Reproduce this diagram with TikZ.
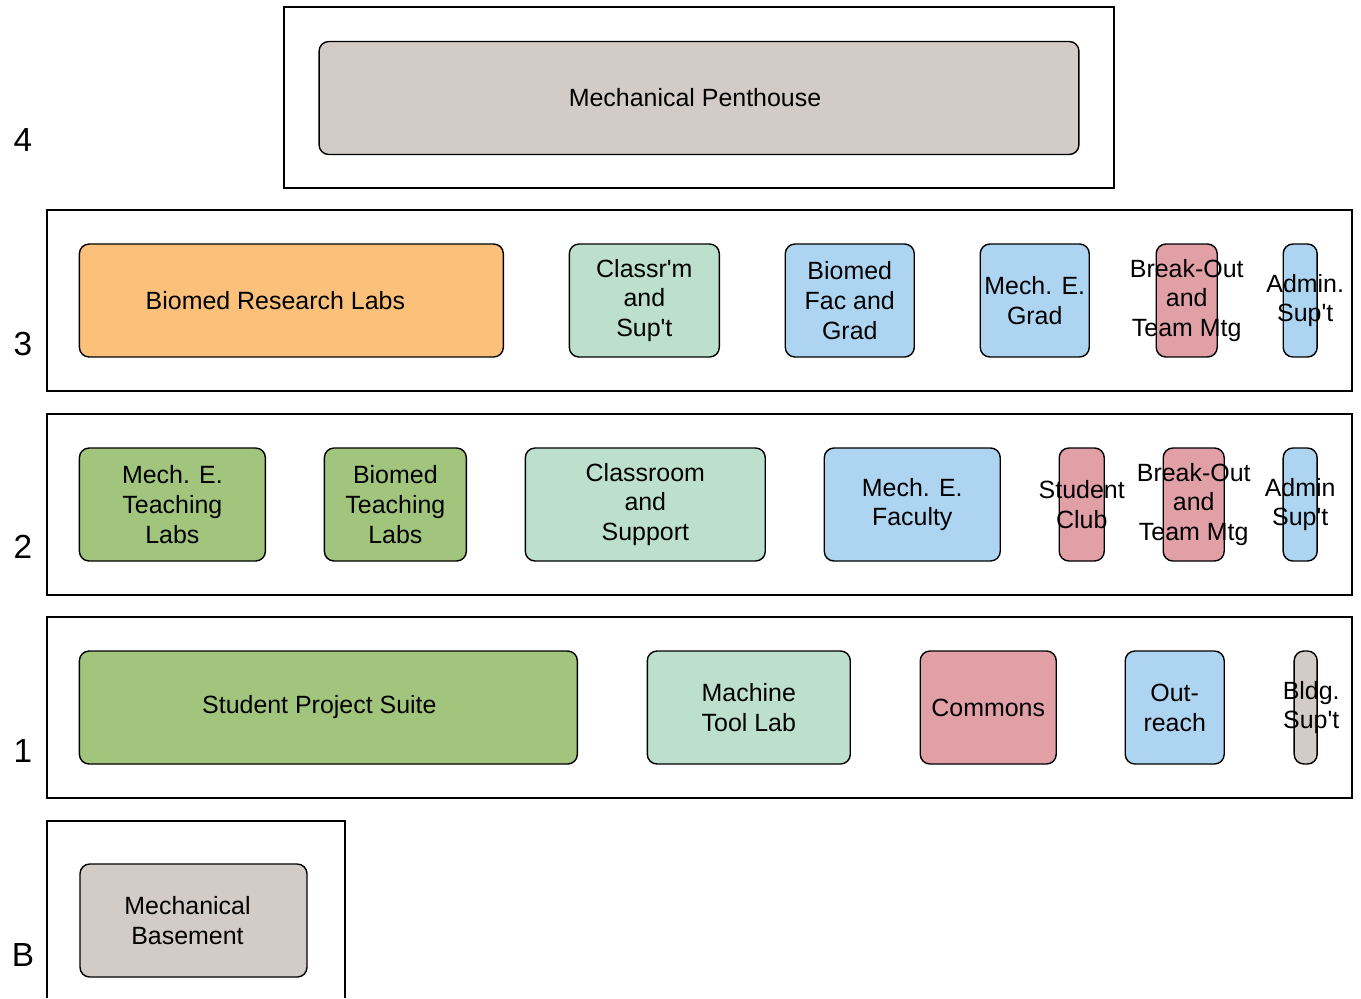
\documentclass[tikz,border=0pt]{standalone}
\usepackage{fontspec}
\setmainfont{Liberation Sans}
\usepackage{xcolor}
\usepackage{tikz}
\usetikzlibrary{positioning}

\definecolor{mechgray}{RGB}{211,203,199}
\definecolor{labtan}{RGB}{251,192,122}
\definecolor{teachgreen}{RGB}{161,197,124}
\definecolor{classmint}{RGB}{188,224,205}
\definecolor{facblue}{RGB}{173,213,242}
\definecolor{meetpink}{RGB}{224,160,166}
\newcommand{\q}{\textquotesingle}

\begin{document}
\begin{tikzpicture}[x=0.02cm, y=-0.02cm,
  floor/.style={draw, line width=0.8pt, minimum height=3.62cm, minimum width=26.1cm, inner sep=0pt},
  room/.style={draw, line width=0.8pt, rounded corners=5.5pt, minimum height=2.26cm,
    inner sep=0pt, outer sep=0pt, align=center, font=\fontsize{14.2pt}{17pt}\selectfont},
  tag/.style={align=center, inner sep=0pt, font=\fontsize{14.2pt}{17pt}\selectfont},
  lvl/.style={font=\fontsize{19pt}{22pt}\selectfont, inner sep=0pt}]
  \useasboundingbox (0,0) rectangle (1361,998);

  % floor outlines
  \node[floor, minimum width=16.6cm] (fl4) at (699,97.5) {};
  \node[floor] (fl3) at (699.5,300.5) {};
  \node[floor] (fl2) at (699.5,504.5) {};
  \node[floor] (fl1) at (699.5,707.5) {};
  \draw[line width=0.8pt] (47,998) |- (345,821) -- (345,998);

  \node[lvl] (l4) at (23,140) {4};
  \node[lvl] (l3) at (23,344) {3};
  \node[lvl] (l2) at (23,547) {2};
  \node[lvl] (l1) at (23,751) {1};
  \node[lvl] (lb) at (23,955) {B};

  % 4
  \node[room, fill=mechgray, minimum width=15.2cm] (pent) at (699,98) {};
  \node[tag, xshift=-0.08cm] (pentt) at (pent) {Mechanical Penthouse};

  % 3
  \node[room, fill=labtan, minimum width=8.48cm, anchor=west] (brl) at ([xshift=0.66cm]fl3.west) {};
  \node[room, fill=classmint, minimum width=3cm, right=1.32cm of brl] (cls3) {Classr\q m\\and\\Sup\q t};
  \node[room, fill=facblue, minimum width=2.58cm, right=1.32cm of cls3] (bfg) {Biomed\\Fac and\\Grad};
  \node[room, fill=facblue, minimum width=2.18cm, right=1.32cm of bfg] (meg) {Mech. E.\\Grad};
  \node[room, fill=meetpink, minimum width=1.22cm, right=1.34cm of meg] (bo3) {};
  \node[room, fill=facblue, minimum width=0.68cm, right=1.32cm of bo3] (adm3) {};
  \node[tag, xshift=-0.32cm] (brlt) at (brl) {Biomed Research Labs};
  \node[tag] (bo3t) at (bo3) {Break-Out\\and\\Team Mtg};
  \node[tag, xshift=0.1cm] (adm3t) at (adm3) {Admin.\\Sup\q t};

  % 2
  \node[room, fill=teachgreen, minimum width=3.72cm, anchor=west] (mtl) at ([xshift=0.66cm]fl2.west) {Mech. E.\\Teaching\\Labs};
  \node[room, fill=teachgreen, minimum width=2.84cm, right=1.18cm of mtl] (btl) {Biomed\\Teaching\\Labs};
  \node[room, fill=classmint, minimum width=4.8cm, right=1.18cm of btl] (cls2) {Classroom\\and\\Support};
  \node[room, fill=facblue, minimum width=3.52cm, right=1.18cm of cls2] (mef) {Mech. E.\\Faculty};
  \node[room, fill=meetpink, minimum width=0.9cm, right=1.18cm of mef] (club) {};
  \node[room, fill=meetpink, minimum width=1.22cm, right=1.18cm of club] (bo2) {};
  \node[room, fill=facblue, minimum width=0.68cm, right=1.18cm of bo2] (adm2) {};
  \node[tag] (clubt) at (club) {Student\\Club};
  \node[tag] (bo2t) at (bo2) {Break-Out\\and\\Team Mtg};
  \node[tag] (adm2t) at (adm2) {Admin\\Sup\q t};

  % 1
  \node[room, fill=teachgreen, minimum width=9.96cm, anchor=west] (sps) at ([xshift=0.66cm]fl1.west) {};
  \node[room, fill=classmint, minimum width=4.06cm, right=1.4cm of sps] (mtool) {Machine\\Tool Lab};
  \node[room, fill=meetpink, minimum width=2.72cm, right=1.4cm of mtool] (comm) {Commons};
  \node[room, fill=facblue, minimum width=1.98cm, right=1.38cm of comm] (outr) {Out-\\reach};
  \node[room, fill=mechgray, minimum width=0.46cm, right=1.4cm of outr] (bldg) {};
  \node[tag, xshift=-0.18cm] (spst) at (sps) {Student Project Suite};
  \node[tag, xshift=0.11cm] (bldgt) at (bldg) {Bldg.\\Sup\q t};

  % B
  \node[room, fill=mechgray, minimum width=4.54cm] (base) at (193.5,920.5) {};
  \node[tag, xshift=-0.12cm] (baset) at (base) {Mechanical\\Basement};
\end{tikzpicture}
\end{document}
